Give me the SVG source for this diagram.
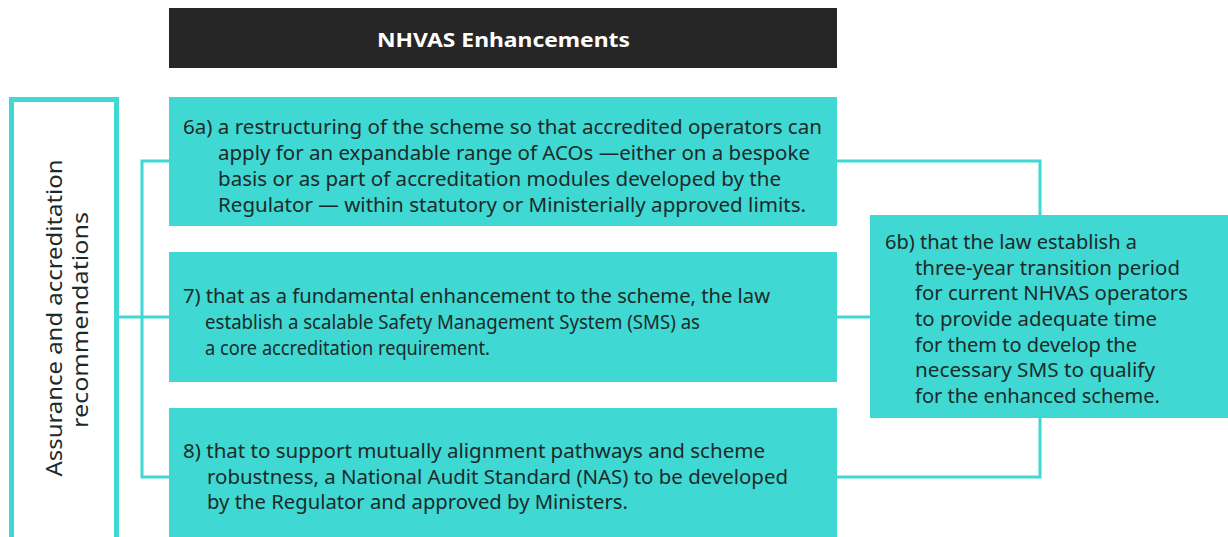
<svg xmlns="http://www.w3.org/2000/svg" width="1228" height="537" viewBox="0 0 1228 537">
  <style>
    .box { fill: #3fd8d2; }
    .frame { fill: #ffffff; stroke: #3fd8d2; stroke-width: 5; }
    .head { fill: #262626; }
    .head-text { font-family: "Noto Sans", "Liberation Sans", sans-serif; font-size: 20px; font-weight: bold; fill: #ffffff; }
    .body { font-family: "Noto Sans", "Liberation Sans", sans-serif; font-size: 19.5px; fill: #1d2a2a; }
    .side { font-family: "Noto Sans", "Liberation Sans", sans-serif; font-size: 21px; fill: #1d2a2a; }
    .link { fill: none; stroke: #3fd8d2; stroke-width: 3; }
  </style>

  <rect width="1228" height="537" fill="#ffffff"/>

  <!-- connectors -->
  <g id="connectors">
    <!-- left bracket -->
    <polyline class="link" points="169,161 142,161 142,477 169,477"/>
    <line class="link" x1="119" y1="317" x2="169" y2="317"/>
    <!-- right bracket -->
    <polyline class="link" points="837,161 1040,161 1040,216"/>
    <polyline class="link" points="1040,417 1040,477 837,477"/>
    <line class="link" x1="837" y1="317" x2="871" y2="317"/>
  </g>

  <!-- header -->
  <g id="header">
    <rect class="head" x="169" y="8" width="668" height="60"/>
    <text class="head-text" x="377" y="47" textLength="253" lengthAdjust="spacingAndGlyphs">NHVAS Enhancements</text>
  </g>

  <!-- side label -->
  <g id="side-label">
    <rect class="frame" x="11.5" y="99.5" width="105" height="445"/>
    <text class="side" transform="translate(62,318) rotate(-90)" text-anchor="middle" textLength="317" lengthAdjust="spacingAndGlyphs">Assurance and accreditation</text>
    <text class="side" transform="translate(88,320) rotate(-90)" text-anchor="middle" textLength="216" lengthAdjust="spacingAndGlyphs">recommendations</text>
  </g>

  <!-- 6a -->
  <g id="rec-6a">
    <rect class="box" x="169" y="97" width="668" height="129"/>
    <text class="body" x="183" y="134" textLength="639" lengthAdjust="spacingAndGlyphs">6a) a restructuring of the scheme so that accredited operators can</text>
    <text class="body" x="218" y="160" textLength="592" lengthAdjust="spacingAndGlyphs">apply for an expandable range of ACOs —either on a bespoke</text>
    <text class="body" x="218" y="186" textLength="563" lengthAdjust="spacingAndGlyphs">basis or as part of accreditation modules developed by the</text>
    <text class="body" x="218" y="212" textLength="588" lengthAdjust="spacingAndGlyphs">Regulator — within statutory or Ministerially approved limits.</text>
  </g>

  <!-- 7 -->
  <g id="rec-7">
    <rect class="box" x="169" y="252" width="668" height="130"/>
    <text class="body" x="183" y="303" textLength="587" lengthAdjust="spacingAndGlyphs">7) that as a fundamental enhancement to the scheme, the law</text>
    <text class="body" x="205" y="329" textLength="495" lengthAdjust="spacingAndGlyphs">establish a scalable Safety Management System (SMS) as</text>
    <text class="body" x="205" y="355" textLength="285" lengthAdjust="spacingAndGlyphs">a core accreditation requirement.</text>
  </g>

  <!-- 8 -->
  <g id="rec-8">
    <rect class="box" x="169" y="408" width="668" height="135"/>
    <text class="body" x="183" y="458" textLength="582" lengthAdjust="spacingAndGlyphs">8) that to support mutually alignment pathways and scheme</text>
    <text class="body" x="207" y="484" textLength="581" lengthAdjust="spacingAndGlyphs">robustness, a National Audit Standard (NAS) to be developed</text>
    <text class="body" x="207" y="509" textLength="421" lengthAdjust="spacingAndGlyphs">by the Regulator and approved by Ministers.</text>
  </g>

  <!-- 6b -->
  <g id="rec-6b">
    <rect class="box" x="870" y="215" width="358" height="203"/>
    <text class="body" x="885" y="249" textLength="252" lengthAdjust="spacingAndGlyphs">6b) that the law establish a</text>
    <text class="body" x="915" y="275" textLength="265" lengthAdjust="spacingAndGlyphs">three-year transition period</text>
    <text class="body" x="915" y="300" textLength="273" lengthAdjust="spacingAndGlyphs">for current NHVAS operators</text>
    <text class="body" x="915" y="326" textLength="242" lengthAdjust="spacingAndGlyphs">to provide adequate time</text>
    <text class="body" x="915" y="352" textLength="222" lengthAdjust="spacingAndGlyphs">for them to develop the</text>
    <text class="body" x="915" y="377" textLength="240" lengthAdjust="spacingAndGlyphs">necessary SMS to qualify</text>
    <text class="body" x="915" y="403" textLength="245" lengthAdjust="spacingAndGlyphs">for the enhanced scheme.</text>
  </g>
</svg>
